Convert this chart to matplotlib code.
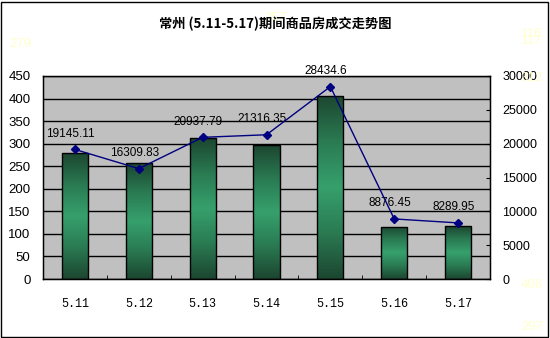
import matplotlib
matplotlib.use('Agg')
import matplotlib.pyplot as plt
import numpy as np
from matplotlib.colors import LinearSegmentedColormap
from matplotlib.patches import Rectangle
from matplotlib.ticker import MultipleLocator

plt.rcParams['font.family'] = ['Liberation Sans', 'Noto Sans CJK SC', 'DejaVu Sans']

days = ['5.11', '5.12', '5.13', '5.14', '5.15', '5.16', '5.17']
units = [279, 257, 312, 297, 406, 116, 117]          # 成交套数 (left axis)
area = [19145.11, 16309.83, 20937.79, 21316.35, 28434.6, 8876.45, 8289.95]  # 成交面积 (right axis)
title = '常州 (5.11-5.17)期间商品房成交走势图'

W, H = 550, 338
fig = plt.figure(figsize=(W / 100, H / 100), dpi=100)
fig.patch.set_facecolor('white')

# plot area in pixel coords
px_l, px_r, px_t, px_b = 43, 490, 76, 279
ax = fig.add_axes([px_l / W, 1 - px_b / H, (px_r - px_l) / W, (px_b - px_t) / H])
ax.set_facecolor('#c0c0c0')

x = np.arange(len(days))
bars = ax.bar(x, units, width=0.41, facecolor='none', edgecolor='black',
              linewidth=1, zorder=3)

# dark-light-dark vertical gradient for each bar
cmap = LinearSegmentedColormap.from_list(
    'bar', ['#1c4630', '#2a7a52', '#36a06c', '#2a7a52', '#1c4630'])
grad = np.linspace(0, 1, 256).reshape(-1, 1)
for b in bars:
    x0, w, h = b.get_x(), b.get_width(), b.get_height()
    im = ax.imshow(grad, extent=[x0, x0 + w, 0, h], aspect='auto',
                   cmap=cmap, origin='lower', zorder=2)
    im.set_clip_path(b)

ax.set_xlim(-0.5, len(days) - 0.5)
ax.set_ylim(0, 450)
ax.yaxis.set_major_locator(MultipleLocator(50))
ax.set_axisbelow(True)
ax.yaxis.grid(True, color='black', linewidth=1, zorder=1)
ax.set_xticks(x)
ax.set_xticklabels(days, family='Liberation Mono', fontsize=8.5)
ax.set_xticks(x[:-1] + 0.5, minor=True)
ax.tick_params(axis='x', which='major', length=0, pad=14)
ax.tick_params(axis='x', which='minor', direction='in', length=3)
ax.tick_params(axis='y', length=0, pad=9, labelsize=9.5)
for s in ax.spines.values():
    s.set_color('black')
    s.set_linewidth(1)

# transaction area on the secondary axis
ax2 = ax.twinx()
ax2.plot(x, area, color='#000080', marker='D', markersize=4, linewidth=1, zorder=5)
ax2.set_ylim(0, 30000)
ax2.yaxis.set_major_locator(MultipleLocator(5000))
ax2.tick_params(axis='y', direction='in', length=3, pad=9, labelsize=9)
for xi, v in zip(x, area):
    ax2.annotate(str(v), xy=(xi, v), xytext=(-3, 7), textcoords='offset points',
                 ha='center', va='bottom', fontsize=8.5)

fig.text(275 / W, 1 - 24 / H, title, ha='center', va='center',
         family=['Noto Sans CJK SC'], fontweight='bold', fontsize=9.5, zorder=5)

# bar value labels, drawn pale yellow around the frame
pale = '#ffffcc'
label_pos = [(20, 44), (275, 18), (532, 78), (532, 327), (532, 285), (532, 34), (532, 41)]
for (lx, ly), v in zip(label_pos, units):
    fig.text(lx / W, 1 - ly / H, str(v), color=pale, ha='center', va='center',
             fontsize=9.5, zorder=1)

fig.patches.append(Rectangle((1 / W, 1 / H), (W - 3) / W, (H - 3) / H, fill=False,
                             edgecolor='black', linewidth=1, transform=fig.transFigure))

fig.savefig('out.png', dpi=100)
